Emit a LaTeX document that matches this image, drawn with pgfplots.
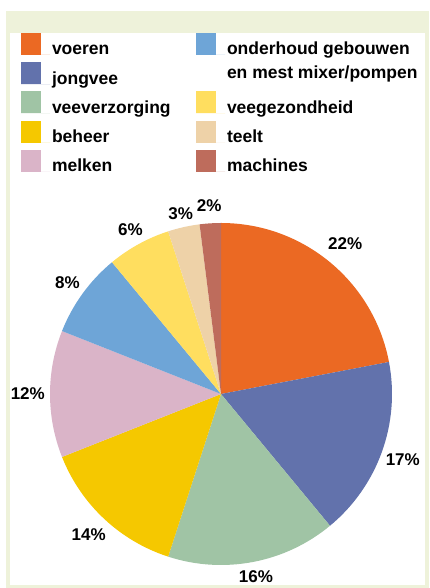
\documentclass[border=0pt]{standalone}
\usepackage{pgfplots}
\usepackage{pgfplotstable}
\pgfplotsset{compat=1.18}
\usepackage{fontspec}
\setmainfont{Liberation Sans}
\definecolor{frame}{RGB}{238,242,218}
\definecolor{cvoeren}{RGB}{235,105,35}
\definecolor{cjongvee}{RGB}{98,114,172}
\definecolor{cverz}{RGB}{160,196,165}
\definecolor{cbeheer}{RGB}{245,200,0}
\definecolor{cmelken}{RGB}{218,180,200}
\definecolor{conderh}{RGB}{110,165,215}
\definecolor{cgezond}{RGB}{255,222,95}
\definecolor{cteelt}{RGB}{238,210,168}
\definecolor{cmach}{RGB}{190,108,92}

% value = share in %, lr = label distance from centre (in radii)
\pgfplotstableread{
label value color lr
voeren 22 cvoeren 1.14
jongvee 17 cjongvee 1.13
veeverzorging 16 cverz 1.09
beheer 14 cbeheer 1.13
melken 12 cmelken 1.13
onderhoud 8 conderh 1.11
veegezondheid 6 cgezond 1.10
teelt 3 cteelt 1.08
machines 2 cmach 1.105
}\piedata
\pgfplotstablecreatecol[create col/expr accum={\pgfmathaccuma + \thisrow{value}}{0}]{cum}\piedata

\tikzset{pct/.style={font=\fontsize{17}{20}\selectfont\bfseries, inner sep=0pt}}

\begin{document}
\begin{tikzpicture}
\path[use as bounding box] (0pt,0pt) rectangle (429pt,588pt);
\fill[frame] (6pt,0pt) rectangle (429pt,577pt);
\fill[white] (10pt,3pt) rectangle (425pt,555pt);
\begin{axis}[
  at={(221pt,194pt)}, anchor=center,
  x=171pt, y=171pt,
  xmin=-1, xmax=1, ymin=-1, ymax=1,
  hide axis, clip=false,
  legend columns=2,
  legend image code/.code={\fill[#1] (0pt,0pt) rectangle (20pt,22pt); \path (0pt,0pt) -- (29pt,0pt);},
  legend style={at={(-0.0848,1.5556)}, anchor=north west, draw=none, fill=none,
    inner sep=0pt, outer sep=0pt, column sep=0pt, row sep=3.7pt,
    font=\fontsize{17.5}{23.5}\selectfont\bfseries,
    cells={anchor=base west, inner sep=0pt, text height=13pt, text depth=4pt}},
]
\pgfplotsforeachungrouped \i in {0,...,8}{%
  \pgfplotstablegetelem{\i}{value}\of\piedata \let\v\pgfplotsretval
  \pgfplotstablegetelem{\i}{cum}\of\piedata \let\c\pgfplotsretval
  \pgfplotstablegetelem{\i}{color}\of\piedata \let\col\pgfplotsretval
  \pgfplotstablegetelem{\i}{lr}\of\piedata \let\lr\pgfplotsretval
  \pgfmathsetmacro\aS{90-3.6*(\c-\v)}%
  \pgfmathsetmacro\aE{90-3.6*\c}%
  \pgfmathsetmacro\aM{(\aS+\aE)/2}%
  \edef\temp{\noexpand\fill[\col] (axis cs:0,0) -- (axis cs:{cos(\aS)},{sin(\aS)}) arc[start angle=\aS, end angle=\aE, radius=171pt] -- cycle;
    \noexpand\node[pct] at (axis cs:{\lr*cos(\aM)},{\lr*sin(\aM)}) {\v\noexpand\%};}%
  \temp
}
\addlegendimage{fill=cvoeren, draw=none}
\addlegendentry{\makebox[142pt][l]{voeren}}
\addlegendimage{fill=conderh, draw=none}
\addlegendentry{\smash{\parbox[t]{210pt}{onderhoud gebouwen\\en mest mixer/pompen}}}
\addlegendimage{fill=cjongvee, draw=none}
\addlegendentry{\makebox[142pt][l]{jongvee}}
\addlegendimage{empty legend}
\addlegendentry{}
\addlegendimage{fill=cverz, draw=none}
\addlegendentry{\makebox[142pt][l]{veeverzorging}}
\addlegendimage{fill=cgezond, draw=none}
\addlegendentry{veegezondheid}
\addlegendimage{fill=cbeheer, draw=none}
\addlegendentry{\makebox[142pt][l]{beheer}}
\addlegendimage{fill=cteelt, draw=none}
\addlegendentry{teelt}
\addlegendimage{fill=cmelken, draw=none}
\addlegendentry{\makebox[142pt][l]{melken}}
\addlegendimage{fill=cmach, draw=none}
\addlegendentry{machines}
\end{axis}
\end{tikzpicture}
\end{document}
